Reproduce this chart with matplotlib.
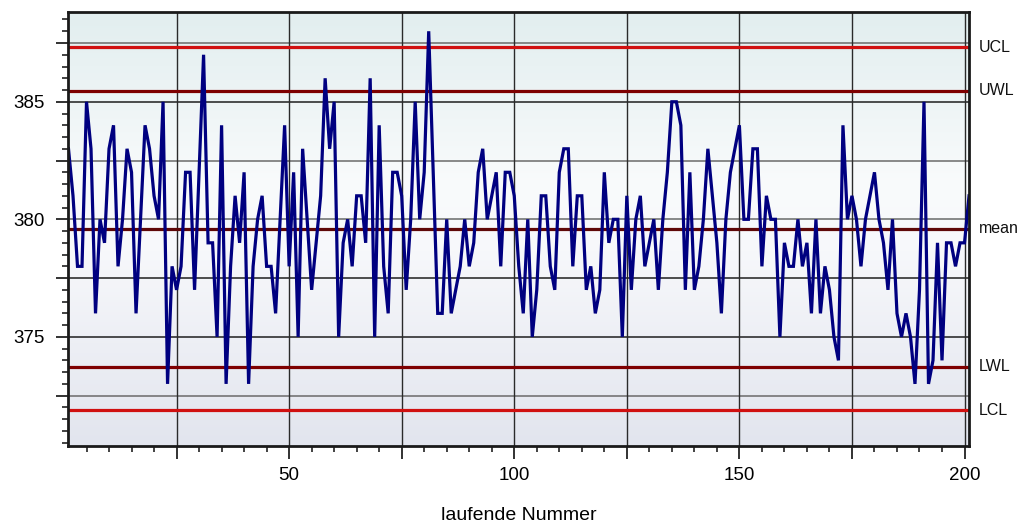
import matplotlib.pyplot as plt
import numpy as np
from matplotlib.colors import LinearSegmentedColormap
from matplotlib.ticker import MultipleLocator, FuncFormatter

# measured values, run numbers 1..201
values = [
    383, 381, 378, 378, 385, 383, 376, 380, 379, 383,
    384, 378, 380, 383, 382, 376, 380, 384, 383, 381,
    380, 385, 373, 378, 377, 378, 382, 382, 377, 382,
    387, 379, 379, 375, 384, 373, 378, 381, 379, 382,
    373, 378, 380, 381, 378, 378, 376, 380, 384, 378,
    382, 375, 383, 380, 377, 379, 381, 386, 383, 385,
    375, 379, 380, 378, 381, 381, 379, 386, 375, 384,
    378, 376, 382, 382, 381, 377, 380, 385, 380, 382,
    388, 382, 376, 376, 380, 376, 377, 378, 380, 378,
    379, 382, 383, 380, 381, 382, 378, 382, 382, 381,
    378, 376, 380, 375, 377, 381, 381, 378, 377, 382,
    383, 383, 378, 381, 381, 377, 378, 376, 377, 382,
    379, 380, 380, 375, 381, 377, 380, 381, 378, 379,
    380, 377, 380, 382, 385, 385, 384, 377, 382, 377,
    378, 380, 383, 381, 379, 376, 380, 382, 383, 384,
    380, 380, 383, 383, 378, 381, 380, 380, 375, 379,
    378, 378, 380, 378, 379, 376, 380, 376, 378, 377,
    375, 374, 384, 380, 381, 380, 378, 380, 381, 382,
    380, 379, 377, 380, 376, 375, 376, 375, 373, 377,
    385, 373, 374, 379, 374, 379, 379, 378, 379, 379,
    381,
]
run_no = np.arange(1, len(values) + 1)

limit_names = ['UCL', 'UWL', 'mean', 'LWL', 'LCL']
limit_values = [387.33, 385.47, 379.6, 373.72, 371.88]

grid_y = [372.5, 375, 377.5, 380, 382.5, 385, 387.5]
grid_x = [25, 50, 75, 100, 125, 150, 175, 200]


def main():
    plt.rcParams['font.family'] = ['Liberation Sans', 'DejaVu Sans']

    fig = plt.figure(figsize=(10.3, 5.24), dpi=100)
    ax = fig.add_axes([0.0665, 0.1494, 0.8743, 0.8282])

    ax.set_xlim(1, 201)
    ax.set_ylim(370.37, 388.83)

    # background gradient: teal-ish top, white middle, lavender bottom
    cmap = LinearSegmentedColormap.from_list(
        'bg', [(0.0, '#e2e5ee'), (0.45, '#f7f8fb'), (0.6, '#f9fbfc'), (1.0, '#e2eeef')])
    grad = np.linspace(0, 1, 256).reshape(-1, 1)
    ax.imshow(grad, extent=[0, 1, 0, 1], transform=ax.transAxes, origin='lower',
              aspect='auto', cmap=cmap, zorder=0)

    gy_cols = ['#6a6a6a', '#1e1e1e', '#1e1e1e', '#6a6a6a', '#6a6a6a', '#1e1e1e', '#6a6a6a']
    for y, c in zip(grid_y, gy_cols):
        ax.axhline(y, color=c, lw=1.1, zorder=1)
    for x in grid_x:
        ax.axvline(x, color='#2a2a2a', lw=1.0, zorder=1)

    lim_cols = ['#d01010', '#7e0000', '#5e0808', '#7e0000', '#d01010']
    for name, v, c in zip(limit_names, limit_values, lim_cols):
        ax.axhline(v, color=c, lw=2.3, zorder=2)
        ax.text(1.011, v, name, transform=ax.get_yaxis_transform(),
                ha='left', va='center', fontsize=11.5, color='#111111')

    ax.plot(run_no, values, color='#000080', lw=2.3, zorder=3, solid_joinstyle='miter')

    ax.xaxis.set_major_locator(MultipleLocator(25))
    ax.xaxis.set_minor_locator(MultipleLocator(5))
    ax.xaxis.set_major_formatter(FuncFormatter(lambda v, p: '%d' % v if v % 50 == 0 else ''))
    ax.yaxis.set_major_locator(MultipleLocator(2.5))
    ax.yaxis.set_minor_locator(MultipleLocator(0.5))
    ax.yaxis.set_major_formatter(FuncFormatter(lambda v, p: '%d' % v if abs(v % 5) < 1e-6 else ''))

    ax.tick_params(which='major', length=9, width=1.3, color='#222222', labelsize=13.5)
    ax.tick_params(which='minor', length=4.5, width=1.2, color='#222222')
    ax.tick_params(axis='y', which='major', pad=8)
    ax.tick_params(axis='x', which='major', pad=6)

    for s in ax.spines.values():
        s.set_linewidth(2.0)
        s.set_color('#1a1a1a')
        s.set_zorder(5)

    fig.text(0.5036, 0.016, 'laufende Nummer', ha='center', va='center', fontsize=14)

    fig.savefig('out.png', dpi=100)


if __name__ == '__main__':
    main()
